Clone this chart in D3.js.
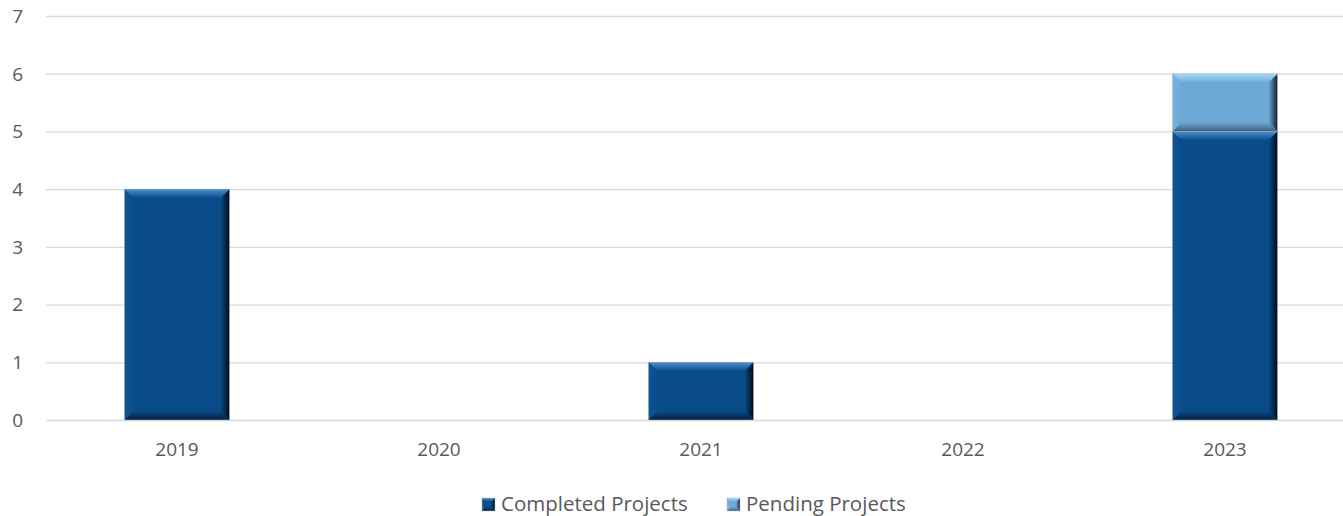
<!doctype html>
<html lang="en">
<head>
<meta charset="utf-8">
<title>Projects by year</title>
<script src="https://cdnjs.cloudflare.com/ajax/libs/d3/7.8.5/d3.min.js"></script>
<style>
  body { margin:0; background:#fff; }
  svg text { font-family: "Open Sans", "Noto Sans", sans-serif; fill:#595959; }
</style>
</head>
<body>
<svg width="1343" height="516"></svg>
<script>
const years = ["2019", "2020", "2021", "2022", "2023"];
const completed = [4, 0, 1, 0, 5];
const pending = [0, 0, 0, 0, 1];
const yTicks = [0, 1, 2, 3, 4, 5, 6, 7];
const seriesNames = ["Completed Projects", "Pending Projects"];

const svg = d3.select("svg");
const plotLeft = 46, plotRight = 1356, plotTop = 16, plotBottom = 420;

const x = d3.scaleBand().domain(years).range([plotLeft, plotRight]).paddingInner(0.6).paddingOuter(0.3);
const y = d3.scaleLinear().domain([0, 7]).range([plotBottom, plotTop]);

const palette = {
  "Completed Projects": {key:"c", base:"#0a4c8a", top:"#4a90d0", bottom:"#031f3d", left:"#0e5494", right:"#010c18"},
  "Pending Projects": {key:"p", base:"#6ea8d5", top:"#a5dcfb", bottom:"#3c5f7c", left:"#78b2dd", right:"#0f2233"}
};

// gradients for the bevel edges
const defs = svg.append("defs");
function grad(id, x1, y1, x2, y2, c1, c2) {
  const g = defs.append("linearGradient").attr("id", id)
    .attr("x1", x1).attr("y1", y1).attr("x2", x2).attr("y2", y2);
  g.append("stop").attr("offset", "0%").attr("stop-color", c1);
  g.append("stop").attr("offset", "100%").attr("stop-color", c2);
}
Object.values(palette).forEach(c => {
  grad(c.key + "-top", 0, 0, 0, 1, c.top, c.base);
  grad(c.key + "-bot", 0, 0, 0, 1, c.base, c.bottom);
  grad(c.key + "-right", 0, 0, 1, 0, c.base, c.right);
  grad(c.key + "-left", 0, 0, 1, 0, c.left, c.base);
});

// grid
svg.append("g").selectAll("line").data(yTicks).join("line")
  .attr("x1", plotLeft).attr("x2", 1343)
  .attr("y1", d => y(d) + 0.5).attr("y2", d => y(d) + 0.5)
  .attr("stroke", "#d9d9d9").attr("stroke-width", 1.3);

// y labels
svg.append("g").selectAll("text").data(yTicks).join("text")
  .attr("x", 23).attr("y", d => y(d)).attr("dy", "0.36em")
  .attr("text-anchor", "end").style("font-size", "19px").text(d => d);

// x labels
svg.append("g").selectAll("text").data(years).join("text")
  .attr("x", d => x(d) + x.bandwidth() / 2).attr("y", 456)
  .attr("text-anchor", "middle").style("font-size", "19px").text(d => d);

function bevelBar(g, x0, y0, w, h, c, bevel) {
  const b = Math.min(bevel, h / 3, w / 3);
  g.append("rect").attr("x", x0).attr("y", y0).attr("width", w).attr("height", h).attr("fill", c.base);
  const x1 = x0 + w, y1 = y0 + h;
  const poly = (pts, fill) => g.append("polygon").attr("points", pts.map(p => p.join(",")).join(" ")).attr("fill", fill);
  poly([[x0, y0], [x0 + b, y0 + b], [x0 + b, y1 - b], [x0, y1]], `url(#${c.key}-left)`);
  poly([[x1, y0], [x1 - b, y0 + b], [x1 - b, y1 - b], [x1, y1]], `url(#${c.key}-right)`);
  poly([[x0, y0], [x1, y0], [x1 - b, y0 + b], [x0 + b, y0 + b]], `url(#${c.key}-top)`);
  poly([[x0, y1], [x1, y1], [x1 - b, y1 - b], [x0 + b, y1 - b]], `url(#${c.key}-bot)`);
  g.append("rect").attr("x", x0).attr("y", y0).attr("width", w).attr("height", h)
    .attr("fill", "none").attr("stroke", "#bfbfbf").attr("stroke-opacity", 0.6).attr("stroke-width", 0.8);
}

const bars = svg.append("g");
years.forEach((yr, i) => {
  const bx = x(yr), bw = x.bandwidth();
  if (completed[i] > 0) {
    bevelBar(bars, bx, y(completed[i]), bw, y(0) - y(completed[i]), palette["Completed Projects"], 9);
  }
  if (pending[i] > 0) {
    const total = completed[i] + pending[i];
    bevelBar(bars, bx, y(total), bw, y(completed[i]) - y(total), palette["Pending Projects"], 9);
  }
});

// legend
const legend = svg.append("g");
const lx = [482, 727];
seriesNames.forEach((name, i) => {
  const c = palette[name];
  const g = legend.append("g").attr("transform", `translate(${lx[i]},498)`);
  bevelBar(g, 0, 0, 13, 13, c, 4);
  g.append("text").attr("x", 19).attr("y", 13).style("font-size", "20.5px").text(name);
});
</script>
</body>
</html>
